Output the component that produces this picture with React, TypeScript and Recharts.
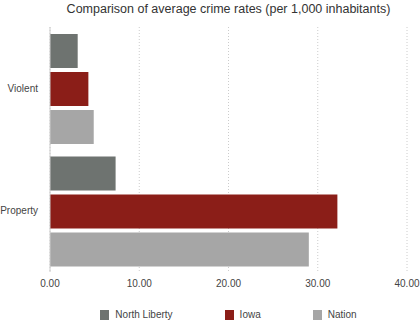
import { BarChart, Bar, XAxis, YAxis, CartesianGrid, Legend } from 'recharts';

const categories = ['Violent', 'Property'];
const northLiberty = [3.1, 7.35];
const iowa = [4.3, 32.2];
const nation = [4.9, 29.0];
const xTicks = [0, 10, 20, 30, 40];

const series = [
  { key: 'North Liberty', color: '#6e7370' },
  { key: 'Iowa', color: '#8b1e18' },
  { key: 'Nation', color: '#a6a6a6' },
];

const data = categories.map((name, i) => ({
  name,
  'North Liberty': northLiberty[i],
  Iowa: iowa[i],
  Nation: nation[i],
}));

const font = '"Liberation Sans", Arial, Helvetica, sans-serif';

const LegendBox = () => (
  <div style={{ display: 'flex', justifyContent: 'center', height: 26, alignItems: 'flex-end', fontFamily: font, fontSize: 10, color: '#444' }}>
    {series.map((s, i) => (
      <div key={s.key} style={{ display: 'flex', alignItems: 'center', marginLeft: i ? 52 : 0 }}>
        <span style={{ width: 9, height: 10, background: s.color, marginRight: 6, display: 'inline-block' }} />
        <span>{s.key}</span>
      </div>
    ))}
  </div>
);

const App = () => (
  <div style={{ position: 'absolute', left: 0, top: 0, width: 420, height: 320, background: '#fff', fontFamily: font }}>
    <div style={{ position: 'absolute', left: 50, width: 357, top: 2, textAlign: 'center', fontSize: 12.5, color: '#333' }}>
      Comparison of average crime rates (per 1,000 inhabitants)
    </div>
    <BarChart
      width={420}
      height={320}
      data={data}
      layout="vertical"
      margin={{ top: 27, right: 13, bottom: 0, left: 0 }}
      barGap={4}
      barCategoryGap={7}
    >
      <CartesianGrid horizontal={false} stroke="#ccc" strokeDasharray="1 2" />
      <XAxis
        type="number"
        domain={[0, 40]}
        ticks={xTicks}
        tickFormatter={(v: number) => v.toFixed(2)}
        axisLine={false}
        tickLine={false}
        height={22}
        tickMargin={2}
        tick={{ fill: '#444', fontSize: 10, fontFamily: font }}
      />
      <YAxis
        type="category"
        dataKey="name"
        width={50}
        axisLine={{ stroke: '#ccc' }}
        tickLine={false}
        tickMargin={6}
        tick={{ fill: '#444', fontSize: 10, fontFamily: font }}
      />
      <Legend
        verticalAlign="bottom"
        content={() => <LegendBox />}
        wrapperStyle={{ left: 50, width: 357 }}
      />
      {series.map((s) => (
        <Bar key={s.key} dataKey={s.key} fill={s.color} isAnimationActive={false} />
      ))}
    </BarChart>
  </div>
);

export default App;
